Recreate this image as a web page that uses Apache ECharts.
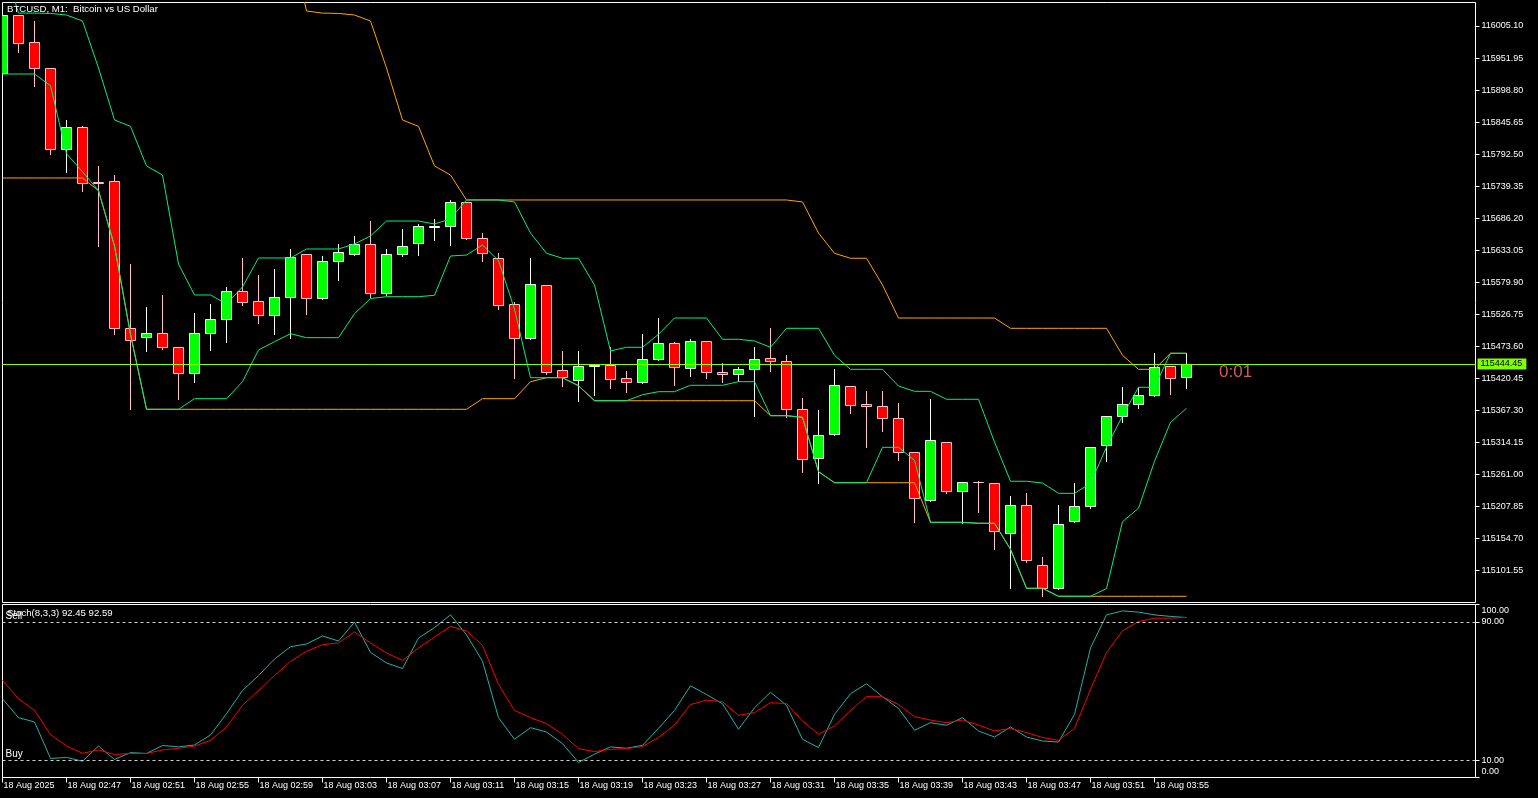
<!DOCTYPE html>
<html><head><meta charset="utf-8">
<script src="https://cdn.jsdelivr.net/npm/echarts@6/dist/echarts.min.js"></script>
<style>html,body{margin:0;padding:0;background:#000;overflow:hidden}#c{width:1538px;height:798px;}</style>
</head><body><div id="c"></div>
<script>
// ---- data (bar index 0 = 18 Aug 02:43, one bar per minute) ----
const openP = [115926.6,116022.9,115978.1,115934.9,115800.6,115838.1,115745.5,115747.5,115503.6,115488.7,
115495.3,115472.1,115429.0,115495.3,115518.6,115565.0,115548.4,115525.2,115555.1,115626.4,
115553.4,115614.8,115626.4,115643.0,115561.7,115626.4,115644.6,115672.5,115672.8,115712.7,
115652.9,115619.8,115543.5,115487.1,115575.0,115434.0,115418.4,115440.6,115442.3,115420.7,
115414.1,115452.2,115478.8,115437.3,115482.1,115430.7,115427.3,115435.6,115453.6,115448.9,
115369.3,115288.0,115327.8,115407.4,115377.6,115374.3,115354.3,115298.0,115218.3,115314.5,
115233.3,115248.2,115246.5,115163.6,115210.0,115110.5,115072.4,115183.5,115208.4,115309.6,
115357.7,115377.6,115392.5,115440.6,115422.4];
const highP = [116026.0,116023.3,116013.4,115935.4,115849.2,115838.6,115772.9,115757.9,115610.3,115539.0,
115558.9,115472.6,115529.0,115544.0,115572.2,115620.3,115592.1,115602.0,115635.2,115626.9,
115623.6,115643.5,115656.8,115681.6,115635.2,115668.4,115676.7,115685.0,115716.5,115713.2,
115661.7,115628.1,115546.8,115619.8,115575.5,115466.0,115466.0,115442.8,115472.1,115432.3,
115493.7,115520.7,115480.4,115485.4,115482.6,115445.6,115439.0,115472.1,115503.6,115458.9,
115387.5,115367.6,115435.6,115407.9,115399.1,115399.1,115379.2,115298.5,115385.9,115315.0,
115248.7,115249.9,115247.0,115225.0,115229.9,115123.8,115210.0,115246.5,115306.7,115358.2,
115405.8,115405.8,115462.2,115441.1,115462.2];
const lowP = [115925.5,115962.5,115906.1,115793.3,115763.4,115731.9,115640.2,115493.7,115369.3,115466.5,
115469.8,115386.9,115415.1,115467.7,115481.4,115542.8,115512.9,115494.7,115488.1,115527.9,
115553.0,115584.3,115626.0,115556.1,115558.4,115623.6,115625.2,115650.1,115641.8,115652.4,
115615.8,115535.2,115421.7,115486.6,115428.3,115408.4,115383.5,115393.5,115405.1,115398.5,
115413.6,115451.7,115409.1,115425.0,115421.7,115415.1,115415.7,115358.7,115433.6,115356.0,
115265.8,115247.5,115327.3,115362.6,115306.2,115332.8,115284.7,115181.8,115217.8,115229.9,
115180.2,115198.4,115137.1,115072.4,115115.5,115059.1,115071.9,115183.0,115205.1,115283.0,
115347.7,115370.9,115392.0,115394.2,115404.1];
const closeP = [116022.9,115976.4,115934.9,115800.6,115838.1,115745.2,115745.0,115503.6,115483.7,115495.3,
115472.1,115429.0,115495.3,115518.6,115565.0,115547.8,115525.2,115555.1,115621.4,115553.4,
115614.8,115629.7,115643.0,115561.7,115626.4,115639.7,115672.8,115673.0,115712.7,115652.9,
115628.1,115541.8,115487.1,115576.6,115431.7,115422.4,115440.6,115442.3,115420.0,115414.1,
115452.2,115478.8,115439.0,115482.1,115430.7,115427.3,115435.6,115452.2,115448.9,115369.3,
115286.3,115327.2,115409.1,115375.9,115374.3,115354.3,115298.0,115221.6,115317.9,115233.3,
115248.2,115248.0,115166.9,115210.0,115118.8,115072.4,115178.5,115208.4,115306.2,115357.7,
115377.6,115392.5,115439.0,115420.7,115444.45];

// short channel (green)
const greenUpper = [116114.6,116026.5,116026.5,116026.0,116023.3,116013.4,115935.4,115849.2,115838.6,115772.9,
115757.9,115610.3,115558.9,115558.9,115544.0,115572.2,115620.3,115620.3,115620.3,115635.2,
115635.2,115635.2,115643.5,115656.8,115681.6,115681.6,115681.6,115676.7,115685.0,115716.5,
115716.5,115716.5,115713.2,115661.7,115628.1,115619.8,115619.8,115575.5,115466.0,115472.1,
115472.1,115493.7,115520.7,115520.7,115520.7,115485.4,115485.4,115482.6,115472.1,115503.6,
115503.6,115503.6,115458.9,115435.6,115435.6,115435.6,115407.9,115399.1,115399.1,115385.9,
115385.9,115385.9,115315.0,115249.9,115249.9,115247.0,115229.9,115229.9,115246.5,115306.7,
115358.2,115405.8,115405.8,115462.2,115462.2];
const greenLower = [115925.5,115925.5,115925.5,115906.1,115793.3,115763.4,115731.9,115640.2,115493.7,115369.3,
115369.3,115369.3,115386.9,115386.9,115386.9,115415.1,115467.7,115481.4,115494.7,115488.1,
115488.1,115488.1,115527.9,115553.0,115556.1,115556.1,115556.1,115558.4,115623.6,115625.2,
115641.8,115615.8,115535.2,115421.7,115421.7,115421.7,115408.4,115383.5,115383.5,115383.5,
115393.5,115398.5,115398.5,115409.1,115409.1,115409.1,115415.1,115415.1,115358.7,115358.7,
115356.0,115265.8,115247.5,115247.5,115247.5,115306.2,115306.2,115284.7,115181.8,115181.8,
115181.8,115180.2,115180.2,115137.1,115072.4,115072.4,115059.1,115059.1,115059.1,115071.9,
115183.0,115205.1,115283.0,115347.7,115370.9];
// long channel (orange)
const orangeUpper = [116150,116150,116150,116150,116150,116150,116150,116150,116150,116150,
116150,116150,116150,116150,116150,116150,116150,116150,116150,116030.0,
116026.5,116026.0,116023.3,116013.4,115935.4,115849.2,115838.6,115772.9,115757.9,115716.5,
115716.5,115716.5,115716.5,115716.5,115716.5,115716.5,115716.5,115716.5,115716.5,115716.5,
115716.5,115716.5,115716.5,115716.5,115716.5,115716.5,115716.5,115716.5,115716.5,115716.5,
115713.2,115661.7,115628.1,115619.8,115619.8,115575.5,115520.7,115520.7,115520.7,115520.7,
115520.7,115520.7,115520.7,115503.6,115503.6,115503.6,115503.6,115503.6,115503.6,115503.6,
115458.9,115435.6,115435.6,115462.2,115462.2];
const orangeLower = [115753.0,115753.0,115753.0,115753.0,115753.0,115753.0,115731.9,115640.2,115493.7,115369.3,
115369.3,115369.3,115369.3,115369.3,115369.3,115369.3,115369.3,115369.3,115369.3,115369.3,
115369.3,115369.3,115369.3,115369.3,115369.3,115369.3,115369.3,115369.3,115369.3,115369.3,
115386.9,115386.9,115386.9,115415.1,115421.7,115421.7,115408.4,115383.5,115383.5,115383.5,
115383.5,115383.5,115383.5,115383.5,115383.5,115383.5,115383.5,115383.5,115358.7,115358.7,
115356.0,115265.8,115247.5,115247.5,115247.5,115247.5,115247.5,115247.5,115181.8,115181.8,
115181.8,115180.2,115180.2,115137.1,115072.4,115072.4,115059.1,115059.1,115059.1,115059.1,
115059.1,115059.1,115059.1,115059.1,115059.1];

// Stochastic (8,3,3)
const stochMain = [45.5,34.6,32.1,11.0,11.6,9.4,18.2,10.4,14.4,13.9,
18.5,17.7,18.8,24.6,36.9,50.3,58.9,68.5,75.6,77.2,
81.8,78.9,89.8,72.3,66.2,63.0,80.6,86.7,94.0,82.5,
67.2,34.6,22.1,28.8,26.3,19.6,8.7,13.5,17.7,16.9,
18.6,28.4,38.8,53.0,48.0,42.6,27.9,40.3,49.3,41.7,
22.1,17.3,36.5,48.4,54.2,46.7,39.9,27.3,31.7,30.2,
34.6,26.9,23.4,29.2,23.4,21.1,20.5,36.5,74.9,94.0,
96.3,95.6,94.0,93.1,92.45];
const stochSignal = [56.1,45.5,38.8,24.8,18.2,14.0,15.9,13.3,13.9,13.9,
15.9,16.9,18.1,21.5,29.2,41.7,50.3,58.9,67.2,72.9,
76.8,77.8,84.1,77.8,72.0,67.7,74.9,81.2,87.3,84.8,
76.4,53.8,38.8,34.6,31.1,25.0,16.7,15.0,16.3,16.7,
17.9,23.1,30.3,42.2,44.7,43.8,35.9,37.5,43.2,42.8,
32.6,25.0,29.8,38.8,46.7,46.7,42.2,35.2,33.2,31.7,
33.2,30.3,26.9,28.3,26.0,23.1,21.5,28.4,50.9,72.3,
84.8,90.2,92.1,92.1,92.59];

const priceTicks = [116005.10,115951.95,115898.80,115845.65,115792.50,115739.35,115686.20,115633.05,115579.90,
115526.75,115473.60,115420.45,115367.30,115314.15,115261.00,115207.85,115154.70,115101.55];
const timeTickIdx = [0,4,8,12,16,20,24,28,32,36,40,44,48,52,56,60,64,68,72];
const timeTickLabels = ['18 Aug 2025','18 Aug 02:47','18 Aug 02:51','18 Aug 02:55','18 Aug 02:59','18 Aug 03:03',
'18 Aug 03:07','18 Aug 03:11','18 Aug 03:15','18 Aug 03:19','18 Aug 03:23','18 Aug 03:27','18 Aug 03:31',
'18 Aug 03:35','18 Aug 03:39','18 Aug 03:43','18 Aug 03:47','18 Aug 03:51','18 Aug 03:55'];
const stochLevels = [10, 90];
const currentPrice = 115444.45;
const timerText = '0:01';
const timerPos = [76, 115430.3];
const titleText = 'BTCUSD, M1:  Bitcoin vs US Dollar';

// ---- chart ----
const FONT = 'Liberation Sans';
const BULL_FILL = '#00ff00', BULL_EDGE = '#f0fff0';
const BEAR_FILL = '#ff0000', BEAR_EDGE = '#ffc0cb';
const GREEN_LINE = '#00ee80', ORANGE_LINE = '#ffa500';

const candleData = openP.map((o, i) => [i, o, closeP[i], lowP[i], highP[i]]);
const toXY = arr => arr.map((v, i) => [i, v]);

function renderCandle(params, api) {
  const i = api.value(0), o = api.value(1), c = api.value(2), l = api.value(3), h = api.value(4);
  const pO = api.coord([i, o]), pC = api.coord([i, c]), pL = api.coord([i, l]), pH = api.coord([i, h]);
  const band = api.size([1, 0])[0];
  const half = Math.round(band * 0.3125);
  const x = Math.floor(pO[0]) + 0.5;
  const bull = c >= o;
  const edge = bull ? BULL_EDGE : BEAR_EDGE;
  const fill = bull ? BULL_FILL : BEAR_FILL;
  const yTop = Math.round(Math.min(pO[1], pC[1])) + 0.5;
  const yBot = Math.round(Math.max(pO[1], pC[1])) + 0.5;
  return {
    type: 'group',
    children: [
      {type: 'line', shape: {x1: x, y1: Math.round(pH[1]), x2: x, y2: Math.round(pL[1]) + 1},
       style: {stroke: edge, lineWidth: 1}},
      {type: 'rect', shape: {x: x - half, y: yTop, width: 2 * half, height: yBot - yTop},
       style: {fill: fill, stroke: edge, lineWidth: 1}}
    ]
  };
}

const labelStyle = {color: '#fff', fontSize: 9, fontFamily: FONT};
const noLine = {show: false, onZero: false};
const lastMain = stochMain[stochMain.length - 1].toFixed(2);
const lastSig = stochSignal[stochSignal.length - 1].toFixed(2);

const chart = echarts.init(document.getElementById('c'), null, {renderer: 'canvas'});
chart.setOption({
  animation: false,
  backgroundColor: '#000',
  title: [
    {text: titleText, left: 7, top: 4, padding: 0,
     textStyle: {color: '#fff', fontSize: 9.6, fontWeight: 'normal', fontFamily: FONT}},
    {text: 'Stoch(8,3,3) ' + lastMain + ' ' + lastSig, left: 7, top: 608, padding: 0,
     textStyle: {color: '#fff', fontSize: 9.6, fontWeight: 'normal', fontFamily: FONT}}
  ],
  grid: [
    {left: 2.5, right: 62.5, top: 2.5, height: 600, show: true, borderColor: '#fff', borderWidth: 1, backgroundColor: 'transparent'},
    {left: 2.5, right: 62.5, top: 604.5, height: 173, show: true, borderColor: '#fff', borderWidth: 1, backgroundColor: 'transparent'}
  ],
  xAxis: [
    {type: 'value', gridIndex: 0, min: 0, max: 92.0625, show: false, axisLine: noLine},
    {type: 'value', gridIndex: 1, min: 0, max: 92.0625, position: 'bottom',
     axisLine: noLine, splitLine: {show: false},
     axisTick: {show: true, customValues: timeTickIdx, length: 5, lineStyle: {color: '#fff'}},
     axisLabel: {show: true, customValues: timeTickIdx, align: 'left', margin: 4, padding: [0, 0, 0, 1],
       formatter: v => timeTickLabels[timeTickIdx.indexOf(v)], ...labelStyle}}
  ],
  yAxis: [
    {type: 'value', gridIndex: 0, position: 'right', min: 115048.79, max: 116044.08,
     axisLine: noLine, splitLine: {show: false},
     axisTick: {show: true, customValues: priceTicks, length: 4, lineStyle: {color: '#fff'}},
     axisLabel: {show: true, customValues: priceTicks, margin: 6, formatter: v => v.toFixed(2), ...labelStyle}},
    {type: 'value', gridIndex: 1, position: 'right', min: 0, max: 100,
     axisLine: noLine, splitLine: {show: false},
     axisTick: {show: true, customValues: stochLevels, length: 4, lineStyle: {color: '#fff'}},
     axisLabel: {show: true, customValues: stochLevels, margin: 6, formatter: v => v.toFixed(2), ...labelStyle}},
    {type: 'value', gridIndex: 1, position: 'right', min: 0, max: 100,
     axisLine: noLine, splitLine: {show: false},
     axisTick: {show: true, customValues: [100], length: 4, lineStyle: {color: '#fff'}},
     axisLabel: {show: true, customValues: [100], margin: 6, verticalAlign: 'top', padding: [2, 0, 0, 0],
       formatter: v => v.toFixed(2), ...labelStyle}},
    {type: 'value', gridIndex: 1, position: 'right', min: 0, max: 100,
     axisLine: noLine, splitLine: {show: false},
     axisTick: {show: true, customValues: [0], length: 4, lineStyle: {color: '#fff'}},
     axisLabel: {show: true, customValues: [0], margin: 6, verticalAlign: 'bottom', padding: [0, 0, 1, 0],
       formatter: v => v.toFixed(2), ...labelStyle}}
  ],
  series: [
    {type: 'custom', name: 'candles', xAxisIndex: 0, yAxisIndex: 0, renderItem: renderCandle,
     data: candleData, clip: true, z: 2,
     encode: {x: 0, y: [1, 2, 3, 4]},
     markPoint: {silent: true, symbol: 'circle', symbolSize: 1, itemStyle: {color: 'rgba(0,0,0,0)'},
       label: {show: true, position: 'right', distance: 0, formatter: timerText, color: '#cd5c5c',
               fontSize: 17, fontFamily: FONT},
       data: [{coord: timerPos}]}},
    {type: 'line', name: 'orangeUpper', xAxisIndex: 0, yAxisIndex: 0, data: toXY(orangeUpper),
     showSymbol: false, symbol: 'none', lineStyle: {color: ORANGE_LINE, width: 1}, z: 3},
    {type: 'line', name: 'orangeLower', xAxisIndex: 0, yAxisIndex: 0, data: toXY(orangeLower),
     showSymbol: false, symbol: 'none', lineStyle: {color: ORANGE_LINE, width: 1}, z: 3,
     markLine: {silent: true, symbol: ['none', 'none'], animation: false,
       lineStyle: {color: '#7fff00', width: 1, type: 'solid'},
       label: {show: true, position: 'end', distance: 2, formatter: () => currentPrice.toFixed(2),
               backgroundColor: '#7fff00', color: '#000', fontSize: 9, fontFamily: FONT, padding: [1, 4, 1, 3]},
       data: [{yAxis: currentPrice}]}},
    {type: 'line', name: 'greenUpper', xAxisIndex: 0, yAxisIndex: 0, data: toXY(greenUpper),
     showSymbol: false, symbol: 'none', lineStyle: {color: GREEN_LINE, width: 1}, z: 4},
    {type: 'line', name: 'greenLower', xAxisIndex: 0, yAxisIndex: 0, data: toXY(greenLower),
     showSymbol: false, symbol: 'none', lineStyle: {color: GREEN_LINE, width: 1}, z: 4},
    {type: 'line', name: 'stochMain', xAxisIndex: 1, yAxisIndex: 1, data: toXY(stochMain),
     showSymbol: false, symbol: 'none', lineStyle: {color: '#20b2aa', width: 1}, z: 3,
     markLine: {silent: true, symbol: ['none', 'none'], animation: false,
       lineStyle: {color: '#d0d0d0', width: 1, type: [3, 3]},
       label: {show: true, position: 'insideStartTop', distance: [3, 1], color: '#fff', fontSize: 10, fontFamily: FONT},
       data: [{yAxis: 90, label: {formatter: 'Sell'}}, {yAxis: 10, label: {formatter: 'Buy'}}]}},
    {type: 'line', name: 'stochSignal', xAxisIndex: 1, yAxisIndex: 1, data: toXY(stochSignal),
     showSymbol: false, symbol: 'none', lineStyle: {color: '#ff0000', width: 1}, z: 4}
  ]
});
</script></body></html>
